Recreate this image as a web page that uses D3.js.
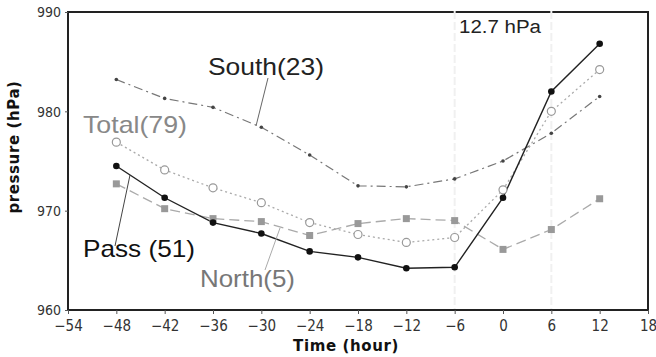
<!DOCTYPE html>
<html>
<head>
<meta charset="utf-8">
<script src="https://cdn.jsdelivr.net/npm/d3@7"></script>
<style>
  body { margin: 0; background: #fff; }
  svg { display: block; }
</style>
</head>
<body>
<div id="chart"></div>
<script>
// data
const hours = [-48, -42, -36, -30, -24, -18, -12, -6, 0, 6, 12];
const pass  = [974.5, 971.3, 968.8, 967.7, 965.9, 965.3, 964.2, 964.3, 971.3, 982.0, 986.8];
const total = [976.9, 974.1, 972.3, 970.8, 968.8, 967.6, 966.8, 967.3, 972.1, 980.0, 984.2];
const south = [983.2, 981.3, 980.4, 978.4, 975.6, 972.5, 972.4, 973.2, 975.0, 977.8, 981.5];
const north = [972.7, 970.2, 969.2, 968.9, 967.5, 968.7, 969.2, 969.0, 966.1, 968.1, 971.2];
const xTicks = [-54, -48, -42, -36, -30, -24, -18, -12, -6, 0, 6, 12, 18];
const yTicks = [960, 970, 980, 990];

const W = 656, H = 357;
const m = {left: 68, right: 8, top: 12, bottom: 47};

const svg = d3.select("#chart").append("svg").attr("width", W).attr("height", H);

const x = d3.scaleLinear().domain([-54, 18]).range([m.left, W - m.right]);
const y = d3.scaleLinear().domain([960, 990]).range([H - m.bottom, m.top]);

// frame
svg.append("rect")
  .attr("x", x(-54)).attr("y", y(990))
  .attr("width", x(18) - x(-54)).attr("height", y(960) - y(990))
  .attr("fill", "none").attr("stroke", "#222").attr("stroke-width", 2);

// faint vertical guides at -6 and 6 (break the top border slightly)
svg.selectAll(".guide").data([-6, 6]).enter().append("line")
  .attr("x1", d => x(d)).attr("x2", d => x(d))
  .attr("y1", y(990) - 1).attr("y2", y(960) - 1)
  .attr("stroke", "#f0f0f0").attr("stroke-width", 2)
  .attr("stroke-dasharray", "8,3");

// axes
const tickFont = "'DejaVu Sans Condensed', 'Liberation Sans Narrow', sans-serif";
const xAxis = svg.append("g").attr("transform", `translate(0,${y(960)})`)
  .call(d3.axisBottom(x).tickValues(xTicks).tickSize(4).tickSizeOuter(0)
    .tickFormat(d => d < 0 ? "\u2212" + Math.abs(d) : d));
const yAxis = svg.append("g").attr("transform", `translate(${x(-54)},0)`)
  .call(d3.axisLeft(y).tickValues(yTicks).tickSize(3).tickSizeOuter(0));
[xAxis, yAxis].forEach(g => {
  g.select(".domain").remove();
  g.selectAll("line").attr("stroke", "#555");
  g.selectAll("text").attr("fill", "#333").style("font-family", tickFont).style("font-size", "15px");
});
xAxis.selectAll("text").attr("dy", "0.9em");
yAxis.selectAll("text").attr("dx", "-1px").attr("dy", "0.35em").style("font-size", "14px");

// axis titles
svg.append("text").attr("x", 346).attr("y", 351).attr("text-anchor", "middle")
  .style("font-family", "'DejaVu Sans', sans-serif").style("font-weight", "bold")
  .style("font-size", "15px").style("letter-spacing", "0.6px")
  .attr("fill", "#111").text("Time (hour)");
svg.append("text").attr("transform", `translate(19,147) rotate(-90)`)
  .attr("text-anchor", "middle")
  .style("font-family", "'DejaVu Sans', sans-serif").style("font-weight", "bold")
  .style("font-size", "15px").style("letter-spacing", "0.6px")
  .attr("fill", "#111").text("pressure (hPa)");

const line = vals => d3.line().x((d, i) => x(hours[i])).y(d => y(d))(vals);

const series = [
  {vals: south, stroke: "#777", dash: "9,4,2,4", w: 1.2},
  {vals: north, stroke: "#aaa", dash: "10,5", w: 1.3},
  {vals: total, stroke: "#aaa", dash: "2,3", w: 1.3},
  {vals: pass,  stroke: "#222", dash: null, w: 1.4}
];
series.forEach(s => {
  svg.append("path").attr("d", line(s.vals)).attr("fill", "none")
    .attr("stroke", s.stroke).attr("stroke-width", s.w)
    .attr("stroke-dasharray", s.dash);
});

// markers
svg.selectAll(".south").data(south).enter().append("circle")
  .attr("cx", (d, i) => x(hours[i])).attr("cy", d => y(d)).attr("r", 1.8).attr("fill", "#444");
svg.selectAll(".north").data(north).enter().append("rect")
  .attr("x", (d, i) => x(hours[i]) - 3.5).attr("y", d => y(d) - 3.5)
  .attr("width", 7).attr("height", 7).attr("fill", "#999");
svg.selectAll(".total").data(total).enter().append("circle")
  .attr("cx", (d, i) => x(hours[i])).attr("cy", d => y(d)).attr("r", 4)
  .attr("fill", "#fff").attr("stroke", "#999").attr("stroke-width", 1.2);
svg.selectAll(".pass").data(pass).enter().append("circle")
  .attr("cx", (d, i) => x(hours[i])).attr("cy", d => y(d)).attr("r", 3.3).attr("fill", "#111");

// labels and leaders
const lab = (tx, ty, txt, col, len) => svg.append("text").attr("x", tx).attr("y", ty)
  .style("font-family", "'Liberation Sans', Arial, sans-serif").style("font-size", "24px")
  .attr("textLength", len).attr("lengthAdjust", "spacingAndGlyphs")
  .attr("fill", col).text(txt);
const lead = (x1, y1, x2, y2, col) => svg.append("line")
  .attr("x1", x1).attr("y1", y1).attr("x2", x2).attr("y2", y2)
  .attr("stroke", col).attr("stroke-width", 1);

lab(208, 75, "South(23)", "#222", 116);
lead(268, 78, 256, 126, "#666");
lab(83, 133, "Total(79)", "#888", 104);
lab(83, 257, "Pass (51)", "#111", 112);
lead(115, 246, 130, 175, "#444");
lab(200, 287, "North(5)", "#777", 95);
lead(265, 270, 280, 228, "#aaa");

svg.append("rect").attr("x", 456).attr("y", 13).attr("width", 90).attr("height", 24).attr("fill", "#fff");
svg.append("text").attr("x", 459).attr("y", 33)
  .style("font-family", "'Liberation Sans', Arial, sans-serif").style("font-size", "18px")
  .attr("textLength", 82).attr("lengthAdjust", "spacingAndGlyphs")
  .attr("fill", "#222").text("12.7 hPa");
</script>
</body>
</html>
